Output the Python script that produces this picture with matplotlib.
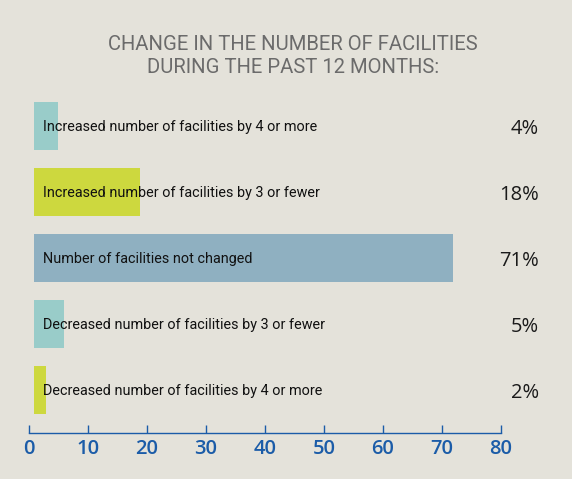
import matplotlib.pyplot as plt
import numpy as np

# data
categories = ['Increased number of facilities by 4 or more',
              'Increased number of facilities by 3 or fewer',
              'Number of facilities not changed',
              'Decreased number of facilities by 3 or fewer',
              'Decreased number of facilities by 4 or more']
values = [4, 18, 71, 5, 2]
pct_labels = ['4%', '18%', '71%', '5%', '2%']
x_ticks = [0, 10, 20, 30, 40, 50, 60, 70, 80]

bar_colors = ['#99ccc9', '#cdd83e', '#8fb0c1', '#99ccc9', '#cdd83e']
bg = '#e4e2da'
blue = '#1b5ca8'
narrow = ['Roboto', 'DejaVu Sans']
num_font = ['Open Sans', 'DejaVu Sans']

W, H = 572, 479
fig = plt.figure(figsize=(W / 100, H / 100), dpi=100)
fig.patch.set_facecolor(bg)

# axes: 0 at x=29px, 80 at x=501px, baseline at y=433px
ax = fig.add_axes([29 / W, 1 - 433.3 / H, 472 / W, (433.3 - 93) / H])
ax.set_facecolor('none')

y = np.arange(len(values))
ax.barh(y, values, left=0.85, height=0.727, color=bar_colors)

ax.set_xlim(0, 80)
ax.set_ylim(4.656, -0.5)
for s in ['top', 'right', 'left']:
    ax.spines[s].set_visible(False)
ax.spines['bottom'].set_color(blue)
ax.spines['bottom'].set_linewidth(1.0)
ax.set_yticks([])
ax.set_xticks(x_ticks)
ax.tick_params(axis='x', direction='in', length=5.5, width=1.0,
               colors=blue, labelsize=14.5, pad=4)
for lab in ax.get_xticklabels():
    lab.set_family(num_font)
    lab.set_fontweight('semibold')

for yi, cat, pct in zip(y, categories, pct_labels):
    ax.text(2.3, yi + 0.02, cat, ha='left', va='center', fontsize=10.4,
            family=narrow, color='#111111')
    ax.text(1.0805, yi + 0.04, pct, ha='right', va='center', fontsize=14.5,
            family=num_font, color='#1a1a1a', transform=ax.get_yaxis_transform())

fig.text(293 / W, 1 - 55.75 / H,
         'CHANGE IN THE NUMBER OF FACILITIES\nDURING THE PAST 12 MONTHS:',
         ha='center', va='center', fontsize=14.6, family=narrow,
         color='#6b6b6b', linespacing=1.25)

fig.savefig('out.png', dpi=100, facecolor=fig.get_facecolor())
